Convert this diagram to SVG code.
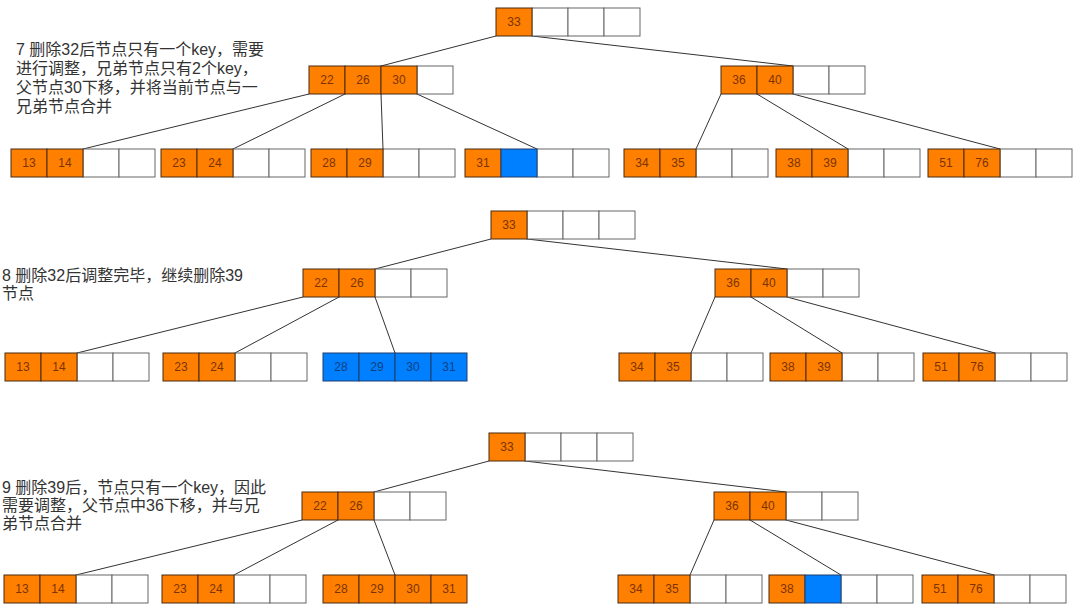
<svg xmlns="http://www.w3.org/2000/svg" width="1080" height="608" viewBox="0 0 1080 608">
<style>
.w{fill:#fff;stroke:#666;stroke-width:1}
.o{fill:#FF8000;stroke:#4a2a10;stroke-width:1}
.b{fill:#007FFF;stroke:#1f3f6f;stroke-width:1}
.n{font-family:"Liberation Sans",Arial,sans-serif;font-size:12px;text-anchor:middle;dominant-baseline:central}
.no{fill:#7a3300}
.nb{fill:#0d3f80}
.lbl{font-family:"Liberation Sans","Noto Sans CJK SC",sans-serif;font-size:16px;fill:#333}
.e{stroke:#333;stroke-width:1;fill:none}
</style>
<rect width="1080" height="608" fill="#fff"/>
<g id="labels">
<text class="lbl" x="16" y="55">7 删除32后节点只有一个key，需要</text>
<text class="lbl" x="16" y="74">进行调整，兄弟节点只有2个key，</text>
<text class="lbl" x="16" y="93">父节点30下移，并将当前节点与一</text>
<text class="lbl" x="16" y="112">兄弟节点合并</text>
<text class="lbl" x="2" y="281">8 删除32后调整完毕，继续删除39</text>
<text class="lbl" x="2" y="299">节点</text>
<text class="lbl" x="2" y="493">9 删除39后，节点只有一个key，因此</text>
<text class="lbl" x="2" y="511">需要调整，父节点中36下移，并与兄</text>
<text class="lbl" x="2" y="529">弟节点合并</text>
</g>
<g id="connectors">
<line class="e" x1="496" y1="36" x2="381" y2="66"/>
<line class="e" x1="532" y1="36" x2="793" y2="66"/>
<line class="e" x1="309" y1="94" x2="83" y2="149"/>
<line class="e" x1="345" y1="94" x2="233" y2="149"/>
<line class="e" x1="381" y1="94" x2="383" y2="149"/>
<line class="e" x1="417" y1="94" x2="537" y2="149"/>
<line class="e" x1="721" y1="94" x2="696" y2="149"/>
<line class="e" x1="757" y1="94" x2="848" y2="149"/>
<line class="e" x1="793" y1="94" x2="1000" y2="149"/>
<line class="e" x1="491" y1="239" x2="375" y2="269"/>
<line class="e" x1="527" y1="239" x2="787" y2="269"/>
<line class="e" x1="303" y1="297" x2="77" y2="353"/>
<line class="e" x1="339" y1="297" x2="235" y2="353"/>
<line class="e" x1="375" y1="297" x2="395" y2="353"/>
<line class="e" x1="715" y1="297" x2="691" y2="353"/>
<line class="e" x1="751" y1="297" x2="842" y2="353"/>
<line class="e" x1="787" y1="297" x2="995" y2="353"/>
<line class="e" x1="489" y1="461" x2="374" y2="492"/>
<line class="e" x1="525" y1="461" x2="786" y2="492"/>
<line class="e" x1="302" y1="520" x2="76" y2="575"/>
<line class="e" x1="338" y1="520" x2="234" y2="575"/>
<line class="e" x1="374" y1="520" x2="395" y2="575"/>
<line class="e" x1="714" y1="520" x2="690" y2="575"/>
<line class="e" x1="750" y1="520" x2="841" y2="575"/>
<line class="e" x1="786" y1="520" x2="994" y2="575"/>
</g>
<!-- Section 1 -->
<g id="s1-root">
<rect class="w" x="532" y="8" width="36" height="28"/><rect class="w" x="568" y="8" width="36" height="28"/><rect class="w" x="604" y="8" width="36" height="28"/>
<rect class="o" x="496" y="8" width="36" height="28"/><text class="n no" x="514" y="22">33</text>
</g>
<g id="s1-left">
<rect class="w" x="417" y="66" width="36" height="28"/>
<rect class="o" x="309" y="66" width="36" height="28"/><text class="n no" x="327" y="80">22</text>
<rect class="o" x="345" y="66" width="36" height="28"/><text class="n no" x="363" y="80">26</text>
<rect class="o" x="381" y="66" width="36" height="28"/><text class="n no" x="399" y="80">30</text>
</g>
<g id="s1-right">
<rect class="w" x="793" y="66" width="36" height="28"/><rect class="w" x="829" y="66" width="36" height="28"/>
<rect class="o" x="721" y="66" width="36" height="28"/><text class="n no" x="739" y="80">36</text>
<rect class="o" x="757" y="66" width="36" height="28"/><text class="n no" x="775" y="80">40</text>
</g>
<g id="s1-leaf1">
<rect class="w" x="83" y="149" width="36" height="28"/><rect class="w" x="119" y="149" width="36" height="28"/>
<rect class="o" x="11" y="149" width="36" height="28"/><text class="n no" x="29" y="163">13</text>
<rect class="o" x="47" y="149" width="36" height="28"/><text class="n no" x="65" y="163">14</text>
</g>
<g id="s1-leaf2">
<rect class="w" x="233" y="149" width="36" height="28"/><rect class="w" x="269" y="149" width="36" height="28"/>
<rect class="o" x="161" y="149" width="36" height="28"/><text class="n no" x="179" y="163">23</text>
<rect class="o" x="197" y="149" width="36" height="28"/><text class="n no" x="215" y="163">24</text>
</g>
<g id="s1-leaf3">
<rect class="w" x="383" y="149" width="36" height="28"/><rect class="w" x="419" y="149" width="36" height="28"/>
<rect class="o" x="311" y="149" width="36" height="28"/><text class="n no" x="329" y="163">28</text>
<rect class="o" x="347" y="149" width="36" height="28"/><text class="n no" x="365" y="163">29</text>
</g>
<g id="s1-leaf4">
<rect class="w" x="537" y="149" width="36" height="28"/><rect class="w" x="573" y="149" width="36" height="28"/>
<rect class="o" x="465" y="149" width="36" height="28"/><text class="n no" x="483" y="163">31</text>
<rect class="b" x="501" y="149" width="36" height="28"/>
</g>
<g id="s1-leaf5">
<rect class="w" x="696" y="149" width="36" height="28"/><rect class="w" x="732" y="149" width="36" height="28"/>
<rect class="o" x="624" y="149" width="36" height="28"/><text class="n no" x="642" y="163">34</text>
<rect class="o" x="660" y="149" width="36" height="28"/><text class="n no" x="678" y="163">35</text>
</g>
<g id="s1-leaf6">
<rect class="w" x="848" y="149" width="36" height="28"/><rect class="w" x="884" y="149" width="36" height="28"/>
<rect class="o" x="776" y="149" width="36" height="28"/><text class="n no" x="794" y="163">38</text>
<rect class="o" x="812" y="149" width="36" height="28"/><text class="n no" x="830" y="163">39</text>
</g>
<g id="s1-leaf7">
<rect class="w" x="1000" y="149" width="36" height="28"/><rect class="w" x="1036" y="149" width="36" height="28"/>
<rect class="o" x="928" y="149" width="36" height="28"/><text class="n no" x="946" y="163">51</text>
<rect class="o" x="964" y="149" width="36" height="28"/><text class="n no" x="982" y="163">76</text>
</g>
<!-- Section 2 -->
<g id="s2-root">
<rect class="w" x="527" y="211" width="36" height="28"/><rect class="w" x="563" y="211" width="36" height="28"/><rect class="w" x="599" y="211" width="36" height="28"/>
<rect class="o" x="491" y="211" width="36" height="28"/><text class="n no" x="509" y="225">33</text>
</g>
<g id="s2-left">
<rect class="w" x="375" y="269" width="36" height="28"/><rect class="w" x="411" y="269" width="36" height="28"/>
<rect class="o" x="303" y="269" width="36" height="28"/><text class="n no" x="321" y="283">22</text>
<rect class="o" x="339" y="269" width="36" height="28"/><text class="n no" x="357" y="283">26</text>
</g>
<g id="s2-right">
<rect class="w" x="787" y="269" width="36" height="28"/><rect class="w" x="823" y="269" width="36" height="28"/>
<rect class="o" x="715" y="269" width="36" height="28"/><text class="n no" x="733" y="283">36</text>
<rect class="o" x="751" y="269" width="36" height="28"/><text class="n no" x="769" y="283">40</text>
</g>
<g id="s2-leaf1">
<rect class="w" x="77" y="353" width="36" height="28"/><rect class="w" x="113" y="353" width="36" height="28"/>
<rect class="o" x="5" y="353" width="36" height="28"/><text class="n no" x="23" y="367">13</text>
<rect class="o" x="41" y="353" width="36" height="28"/><text class="n no" x="59" y="367">14</text>
</g>
<g id="s2-leaf2">
<rect class="w" x="235" y="353" width="36" height="28"/><rect class="w" x="271" y="353" width="36" height="28"/>
<rect class="o" x="163" y="353" width="36" height="28"/><text class="n no" x="181" y="367">23</text>
<rect class="o" x="199" y="353" width="36" height="28"/><text class="n no" x="217" y="367">24</text>
</g>
<g id="s2-leaf3">
<rect class="b" x="323" y="353" width="36" height="28"/><text class="n nb" x="341" y="367">28</text>
<rect class="b" x="359" y="353" width="36" height="28"/><text class="n nb" x="377" y="367">29</text>
<rect class="b" x="395" y="353" width="36" height="28"/><text class="n nb" x="413" y="367">30</text>
<rect class="b" x="431" y="353" width="36" height="28"/><text class="n nb" x="449" y="367">31</text>
</g>
<g id="s2-leaf4">
<rect class="w" x="691" y="353" width="36" height="28"/><rect class="w" x="727" y="353" width="36" height="28"/>
<rect class="o" x="619" y="353" width="36" height="28"/><text class="n no" x="637" y="367">34</text>
<rect class="o" x="655" y="353" width="36" height="28"/><text class="n no" x="673" y="367">35</text>
</g>
<g id="s2-leaf5">
<rect class="w" x="842" y="353" width="36" height="28"/><rect class="w" x="878" y="353" width="36" height="28"/>
<rect class="o" x="770" y="353" width="36" height="28"/><text class="n no" x="788" y="367">38</text>
<rect class="o" x="806" y="353" width="36" height="28"/><text class="n no" x="824" y="367">39</text>
</g>
<g id="s2-leaf6">
<rect class="w" x="995" y="353" width="36" height="28"/><rect class="w" x="1031" y="353" width="36" height="28"/>
<rect class="o" x="923" y="353" width="36" height="28"/><text class="n no" x="941" y="367">51</text>
<rect class="o" x="959" y="353" width="36" height="28"/><text class="n no" x="977" y="367">76</text>
</g>
<!-- Section 3 -->
<g id="s3-root">
<rect class="w" x="525" y="433" width="36" height="28"/><rect class="w" x="561" y="433" width="36" height="28"/><rect class="w" x="597" y="433" width="36" height="28"/>
<rect class="o" x="489" y="433" width="36" height="28"/><text class="n no" x="507" y="447">33</text>
</g>
<g id="s3-left">
<rect class="w" x="374" y="492" width="36" height="28"/><rect class="w" x="410" y="492" width="36" height="28"/>
<rect class="o" x="302" y="492" width="36" height="28"/><text class="n no" x="320" y="506">22</text>
<rect class="o" x="338" y="492" width="36" height="28"/><text class="n no" x="356" y="506">26</text>
</g>
<g id="s3-right">
<rect class="w" x="786" y="492" width="36" height="28"/><rect class="w" x="822" y="492" width="36" height="28"/>
<rect class="o" x="714" y="492" width="36" height="28"/><text class="n no" x="732" y="506">36</text>
<rect class="o" x="750" y="492" width="36" height="28"/><text class="n no" x="768" y="506">40</text>
</g>
<g id="s3-leaf1">
<rect class="w" x="76" y="575" width="36" height="28"/><rect class="w" x="112" y="575" width="36" height="28"/>
<rect class="o" x="4" y="575" width="36" height="28"/><text class="n no" x="22" y="589">13</text>
<rect class="o" x="40" y="575" width="36" height="28"/><text class="n no" x="58" y="589">14</text>
</g>
<g id="s3-leaf2">
<rect class="w" x="234" y="575" width="36" height="28"/><rect class="w" x="270" y="575" width="36" height="28"/>
<rect class="o" x="162" y="575" width="36" height="28"/><text class="n no" x="180" y="589">23</text>
<rect class="o" x="198" y="575" width="36" height="28"/><text class="n no" x="216" y="589">24</text>
</g>
<g id="s3-leaf3">
<rect class="o" x="323" y="575" width="36" height="28"/><text class="n no" x="341" y="589">28</text>
<rect class="o" x="359" y="575" width="36" height="28"/><text class="n no" x="377" y="589">29</text>
<rect class="o" x="395" y="575" width="36" height="28"/><text class="n no" x="413" y="589">30</text>
<rect class="o" x="431" y="575" width="36" height="28"/><text class="n no" x="449" y="589">31</text>
</g>
<g id="s3-leaf4">
<rect class="w" x="690" y="575" width="36" height="28"/><rect class="w" x="726" y="575" width="36" height="28"/>
<rect class="o" x="618" y="575" width="36" height="28"/><text class="n no" x="636" y="589">34</text>
<rect class="o" x="654" y="575" width="36" height="28"/><text class="n no" x="672" y="589">35</text>
</g>
<g id="s3-leaf5">
<rect class="w" x="841" y="575" width="36" height="28"/><rect class="w" x="877" y="575" width="36" height="28"/>
<rect class="o" x="769" y="575" width="36" height="28"/><text class="n no" x="787" y="589">38</text>
<rect class="b" x="805" y="575" width="36" height="28"/>
</g>
<g id="s3-leaf6">
<rect class="w" x="994" y="575" width="36" height="28"/><rect class="w" x="1030" y="575" width="36" height="28"/>
<rect class="o" x="922" y="575" width="36" height="28"/><text class="n no" x="940" y="589">51</text>
<rect class="o" x="958" y="575" width="36" height="28"/><text class="n no" x="976" y="589">76</text>
</g>
</svg>
